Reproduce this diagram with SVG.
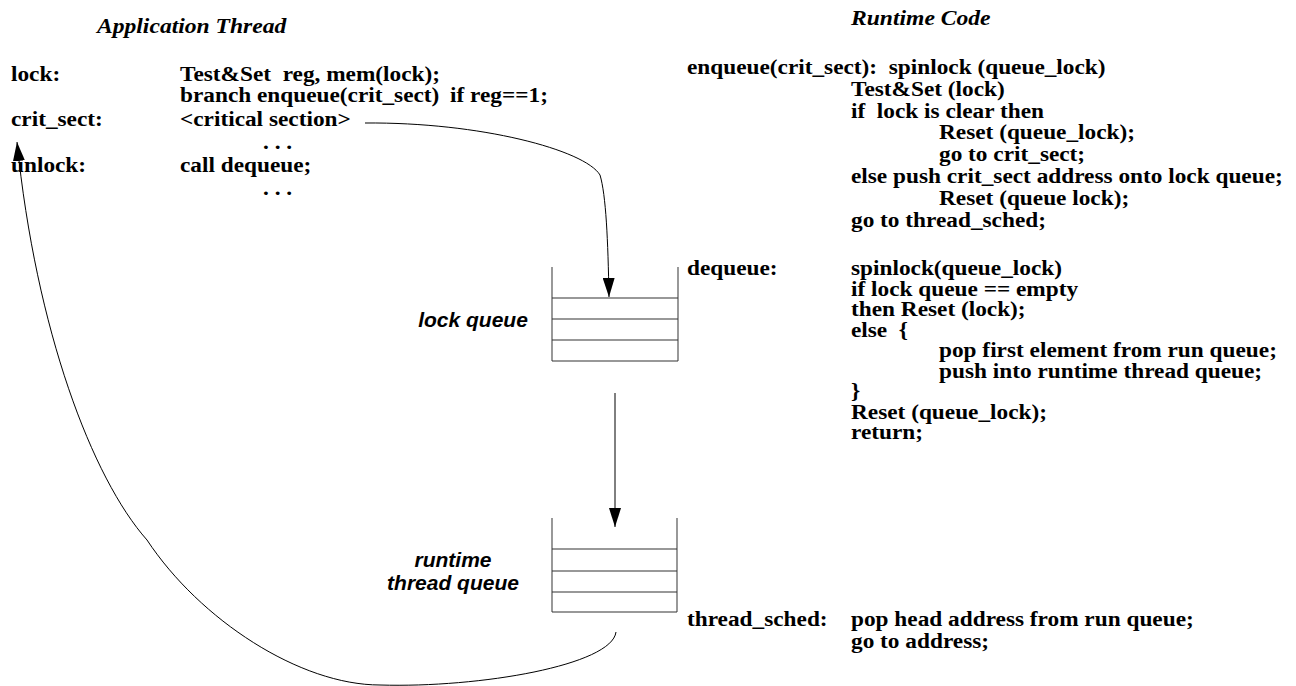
<svg xmlns="http://www.w3.org/2000/svg" width="1296" height="686" viewBox="0 0 1296 686">
  <style>
    .code { font-family: "Liberation Serif", "Times New Roman", serif; font-weight: bold; font-size: 20px; fill: #000; white-space: pre; }
    .title { font-family: "Liberation Serif", "Times New Roman", serif; font-weight: bold; font-style: italic; font-size: 20px; fill: #000; }
    .qlabel { font-family: "Liberation Sans", Arial, sans-serif; font-weight: bold; font-style: italic; font-size: 21px; fill: #000; text-anchor: middle; }
    .wall { stroke: #555; stroke-width: 1.2; fill: none; }
    .slot { stroke: #333; stroke-width: 1.2; fill: none; }
    .conn { stroke: #000; stroke-width: 1; fill: none; marker-end: url(#head); }
  </style>
  <defs>
    <marker id="head" markerUnits="userSpaceOnUse" markerWidth="19" markerHeight="12" refX="19" refY="6" orient="auto">
      <path d="M0,0 L19,6 L0,12 z" fill="#000"/>
    </marker>
  </defs>

  <rect width="1296" height="686" fill="#fff"/>

  <!-- Application thread code -->
  <g id="app-thread">
    <text class="title" transform="translate(97,33) scale(1.18,1)">Application Thread</text>
    <text class="code" transform="translate(11,81) scale(1.165,1)">lock:</text>
    <text class="code" transform="translate(180,81) scale(1.165,1)">Test&amp;Set  reg, mem(lock);</text>
    <text class="code" transform="translate(180,102) scale(1.165,1)">branch enqueue(crit_sect)</text>
    <text class="code" transform="translate(450,102) scale(1.165,1)">if reg==1;</text>
    <text class="code" transform="translate(11,126) scale(1.165,1)">crit_sect:</text>
    <text class="code" transform="translate(180,126) scale(1.165,1)">&lt;critical section&gt;</text>
    <text class="code" transform="translate(263,149) scale(1.165,1)">. . .</text>
    <text class="code" transform="translate(11,172) scale(1.165,1)">unlock:</text>
    <text class="code" transform="translate(180,172) scale(1.165,1)">call dequeue;</text>
    <text class="code" transform="translate(263,195) scale(1.165,1)">. . .</text>
  </g>

  <!-- Runtime code: enqueue -->
  <g id="runtime-enqueue">
    <text class="title" transform="translate(851,25) scale(1.18,1)">Runtime Code</text>
    <text class="code" transform="translate(687,74) scale(1.165,1)">enqueue(crit_sect):  spinlock (queue_lock)</text>
    <text class="code" transform="translate(851,95.8) scale(1.165,1)">Test&amp;Set (lock)</text>
    <text class="code" transform="translate(851,117.6) scale(1.165,1)">if  lock is clear then</text>
    <text class="code" transform="translate(939,139.4) scale(1.165,1)">Reset (queue_lock);</text>
    <text class="code" transform="translate(939,161.2) scale(1.165,1)">go to crit_sect;</text>
    <text class="code" transform="translate(851,183) scale(1.165,1)">else push crit_sect address onto lock queue;</text>
    <text class="code" transform="translate(939,204.8) scale(1.165,1)">Reset (queue lock);</text>
    <text class="code" transform="translate(851,226.6) scale(1.165,1)">go to thread_sched;</text>
  </g>

  <!-- Runtime code: dequeue -->
  <g id="runtime-dequeue">
    <text class="code" transform="translate(687,275) scale(1.165,1)">dequeue:</text>
    <text class="code" transform="translate(851,275) scale(1.165,1)">spinlock(queue_lock)</text>
    <text class="code" transform="translate(851,295.5) scale(1.165,1)">if lock queue == empty</text>
    <text class="code" transform="translate(851,316) scale(1.165,1)">then Reset (lock);</text>
    <text class="code" transform="translate(851,336.5) scale(1.165,1)">else  {</text>
    <text class="code" transform="translate(939,357) scale(1.165,1)">pop first element from run queue;</text>
    <text class="code" transform="translate(939,377.5) scale(1.165,1)">push into runtime thread queue;</text>
    <text class="code" transform="translate(851,398) scale(1.165,1)">}</text>
    <text class="code" transform="translate(851,418.5) scale(1.165,1)">Reset (queue_lock);</text>
    <text class="code" transform="translate(851,439) scale(1.165,1)">return;</text>
  </g>

  <!-- Runtime code: scheduler -->
  <g id="runtime-thread-sched">
    <text class="code" transform="translate(687,626) scale(1.165,1)">thread_sched:</text>
    <text class="code" transform="translate(851,626) scale(1.165,1)">pop head address from run queue;</text>
    <text class="code" transform="translate(851,648) scale(1.165,1)">go to address;</text>
  </g>

  <!-- Lock queue -->
  <g id="lock-queue">
    <path class="wall" d="M552,267 V361 M678,267 V361"/>
    <path class="slot" d="M552,298 H678 M552,319 H678 M552,340 H678 M552,361 H678"/>
    <text class="qlabel" x="473" y="327">lock queue</text>
  </g>

  <!-- Runtime thread queue -->
  <g id="runtime-thread-queue">
    <path class="wall" d="M552,518 V612 M677,518 V612"/>
    <path class="slot" d="M552,549 H677 M552,571 H677 M552,592 H677 M552,612 H677"/>
    <text class="qlabel" x="453" y="567">runtime</text>
    <text class="qlabel" x="453" y="590">thread queue</text>
  </g>

  <!-- Connectors -->
  <g id="connectors">
    <path class="conn" d="M365,123 C480,122 585,150 600,175 C606,195 608,240 609,297"/>
    <path class="conn" d="M615,393 L615,527"/>
    <path class="conn" d="M616,632 C612,665 480,688 380,685 C300,685 200,620 147,540 C92,478 36,330 17,142"/>
  </g>
</svg>
